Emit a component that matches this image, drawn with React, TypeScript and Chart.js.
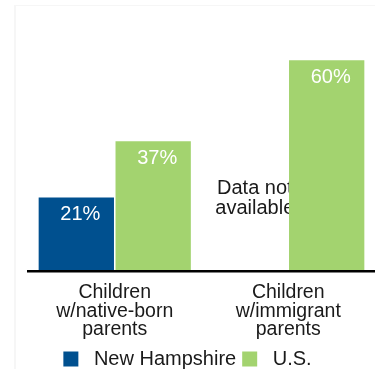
import React, { useEffect, useRef } from "react";
import { Chart, registerables } from "chart.js";

Chart.register(...registerables);

const categories: string[][] = [
  ["Children", "w/native-born", "parents"],
  ["Children", "w/immigrant", "parents"],
];
const seriesNames = ["New Hampshire", "U.S."];
const newHampshire: (number | null)[] = [21, null];
const us: number[] = [37, 60];
const seriesColors = ["#00508f", "#a3d36f"];
const missingNote = ["Data not", "available"];
const yMax = 70;

const FONT = "'Liberation Sans', Arial, sans-serif";

const labelPlugin = {
  id: "valueLabels",
  beforeDatasetsDraw(chart: any) {
    const ctx = chart.ctx;
    const meta = chart.getDatasetMeta(0);
    ctx.save();
    ctx.font = `20px ${FONT}`;
    ctx.fillStyle = "#1a1a1a";
    ctx.textAlign = "center";
    ctx.textBaseline = "middle";
    newHampshire.forEach((v, i) => {
      if (v !== null) return;
      const el = meta.data[i];
      const x = el.x + 5;
      const y0 = chart.scales.y.getPixelForValue(21);
      ctx.fillText(missingNote[0], x, y0 - 9);
      ctx.fillText(missingNote[1], x, y0 + 11);
    });
    ctx.restore();
  },
  afterDatasetsDraw(chart: any) {
    const ctx = chart.ctx;
    ctx.save();
    ctx.font = `20px ${FONT}`;
    ctx.fillStyle = "#ffffff";
    ctx.textAlign = "center";
    ctx.textBaseline = "middle";
    chart.data.datasets.forEach((ds: any, di: number) => {
      const meta = chart.getDatasetMeta(di);
      ds.data.forEach((v: number | null, i: number) => {
        if (v === null) return;
        const el = meta.data[i];
        ctx.fillText(`${v}%`, el.x + 4, el.y + 17);
      });
    });
    ctx.restore();
  },
};

export default function App() {
  const ref = useRef<HTMLCanvasElement>(null);
  useEffect(() => {
    document.body.style.margin = "0";
    const chart = new Chart(ref.current!, {
      type: "bar",
      data: {
        labels: categories,
        datasets: [
          {
            label: seriesNames[0],
            data: newHampshire,
            backgroundColor: seriesColors[0],
            categoryPercentage: 0.886,
            barPercentage: 0.98,
          },
          {
            label: seriesNames[1],
            data: us,
            backgroundColor: seriesColors[1],
            categoryPercentage: 0.886,
            barPercentage: 0.98,
          },
        ],
      },
      options: {
        animation: false,
        responsive: false,
        maintainAspectRatio: false,
        layout: { padding: { top: 25, left: 0, right: 0, bottom: -10 } },
        plugins: {
          tooltip: { enabled: false },
          legend: {
            position: "bottom",
            labels: {
              boxWidth: 15,
              boxHeight: 15,
              padding: 6,
              color: "#1a1a1a",
              font: { family: FONT, size: 20 },
              generateLabels: (c: any) =>
                Chart.defaults.plugins.legend.labels
                  .generateLabels(c)
                  .map((l: any) => ({ ...l, text: " " + l.text, lineWidth: 0 })),
            },
          },
        },
        scales: {
          x: {
            grid: { display: false, drawTicks: false },
            border: { display: true, color: "#000000", width: 2.5, z: 1 },
            ticks: {
              color: "#1a1a1a",
              padding: 12,
              font: { family: FONT, size: 19.5, lineHeight: 0.95 },
              maxRotation: 0,
            },
            afterFit: (s: any) => {
              s.height = s.height - 8;
            },
          },
          y: {
            min: 0,
            max: yMax,
            grid: { display: false, drawTicks: false },
            border: { display: false },
            ticks: { display: false },
            afterFit: (s: any) => {
              s.width = 28;
            },
          },
        },
      },
      plugins: [labelPlugin],
    });
    return () => chart.destroy();
  }, []);
  return (
    <div style={{ position: "relative", width: 375, height: 369 }}>
      <div
        style={{
          position: "absolute",
          left: 14,
          top: 5,
          right: 0,
          bottom: 0,
          borderLeft: "2px solid #f6f6f6",
          borderTop: "1px solid #f6f6f6",
        }}
      />
      <canvas ref={ref} width={375} height={369} style={{ position: "absolute", left: 0, top: 0 }} />
    </div>
  );
}
